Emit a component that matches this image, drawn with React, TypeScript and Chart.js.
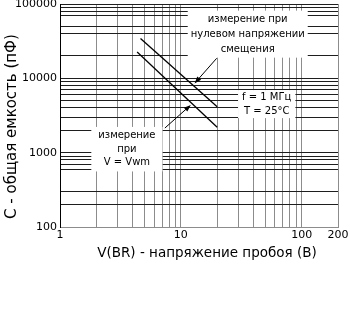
import { useEffect, useRef } from "react";
import { Chart, registerables } from "chart.js";

Chart.register(...registerables);

// ---- data ----
const xTickValues = [1, 2, 3, 4, 5, 6, 7, 8, 9, 10, 20, 30, 40, 50, 60, 70, 80, 90, 100, 200];
const xTickLabels = ["1", "10", "100", "200"];
// horizontal grid lines visible in the reference
const yTickValues = [
  100, 200, 300, 600, 700, 800, 900,
  1000, 2000, 3000, 4000, 5000, 6000, 7000, 8000, 9000,
  10000, 20000, 40000, 50000, 70000, 80000, 90000, 100000,
];
const yTickLabels = ["100", "1000", "10000", "100000"];

const zeroBiasV = [4.64, 20];
const zeroBiasC = [34400, 4150];
const vwmV = [4.35, 20];
const vwmC = [22650, 2200];

const xTitle = "V(BR) - напряжение пробоя (В)";
const yTitle = "C - общая емкость (пФ)";

const noteZeroBias = ["измерение при", "нулевом напряжении", "смещения"];
const noteConditions = ["f = 1 МГц", "T = 25°C"];
const noteVwm = ["измерение", "при", "V = Vwm"];

const FONT = "'DejaVu Sans', sans-serif";

// annotation placement (data coordinates)
const notes = [
  { lines: noteZeroBias, x: 35.8, y: 39300, lh: 15, padX: 3, padY: 1 },
  { lines: noteConditions, x: 51.4, y: 4500, lh: 14, padX: 4, padY: 0 },
  { lines: noteVwm, x: 3.58, y: 1114, lh: 13.5, padX: 7, padY: 2 },
];
const arrows = [
  { from: [19.8, 18600], to: [13, 8550] },
  { from: [7.38, 2143], to: [12.1, 4385] },
];

const overlay = {
  id: "overlay",
  afterDatasetsDraw(chart: any) {
    const { ctx, chartArea } = chart;
    const xs = chart.scales.x;
    const ys = chart.scales.y;
    ctx.save();
    ctx.font = `10px ${FONT}`;
    ctx.textAlign = "center";
    ctx.textBaseline = "middle";
    for (const n of notes) {
      const cx = xs.getPixelForValue(n.x);
      const cy = ys.getPixelForValue(n.y);
      const w = Math.max(...n.lines.map((l) => ctx.measureText(l).width)) + 2 * n.padX;
      const h = n.lines.length * n.lh + 2 * n.padY;
      ctx.fillStyle = "#ffffff";
      ctx.fillRect(cx - w / 2, cy - h / 2, w, h);
      ctx.fillStyle = "#000000";
      n.lines.forEach((l, i) => {
        ctx.fillText(l, cx, cy + (i - (n.lines.length - 1) / 2) * n.lh);
      });
    }
    ctx.strokeStyle = "#000";
    ctx.fillStyle = "#000";
    ctx.lineWidth = 1;
    for (const a of arrows) {
      const x0 = xs.getPixelForValue(a.from[0]);
      const y0 = ys.getPixelForValue(a.from[1]);
      const x1 = xs.getPixelForValue(a.to[0]);
      const y1 = ys.getPixelForValue(a.to[1]);
      const ang = Math.atan2(y1 - y0, x1 - x0);
      const L = 7, W = 2.6;
      ctx.beginPath();
      ctx.moveTo(x0, y0);
      ctx.lineTo(x1 - Math.cos(ang) * L * 0.8, y1 - Math.sin(ang) * L * 0.8);
      ctx.stroke();
      ctx.beginPath();
      ctx.moveTo(x1, y1);
      ctx.lineTo(x1 - Math.cos(ang) * L - Math.sin(ang) * W, y1 - Math.sin(ang) * L + Math.cos(ang) * W);
      ctx.lineTo(x1 - Math.cos(ang) * L + Math.sin(ang) * W, y1 - Math.sin(ang) * L - Math.cos(ang) * W);
      ctx.closePath();
      ctx.fill();
    }
    // axis titles
    ctx.fillStyle = "#000";
    ctx.font = `13.5px ${FONT}`;
    ctx.fillText(xTitle, (chartArea.left + chartArea.right) / 2 + 8, chartArea.bottom + 26);
    ctx.font = `15px ${FONT}`;
    ctx.translate(12, (chartArea.top + chartArea.bottom) / 2 + 11);
    ctx.rotate(-Math.PI / 2);
    ctx.fillText(yTitle, 0, 0);
    ctx.restore();
  },
};

export default function App() {
  const ref = useRef<HTMLCanvasElement | null>(null);
  useEffect(() => {
    if (!ref.current) return;
    const chart = new Chart(ref.current, {
      type: "scatter",
      data: {
        datasets: [
          {
            label: "zero bias",
            data: zeroBiasV.map((v, i) => ({ x: v, y: zeroBiasC[i] })),
            showLine: true,
            borderColor: "#000",
            borderWidth: 1.3,
            pointRadius: 0,
          },
          {
            label: "V = Vwm",
            data: vwmV.map((v, i) => ({ x: v, y: vwmC[i] })),
            showLine: true,
            borderColor: "#000",
            borderWidth: 1.3,
            pointRadius: 0,
          },
        ],
      },
      options: {
        responsive: false,
        animation: false,
        devicePixelRatio: 1,
        layout: { padding: { left: 0, top: 4, right: 12, bottom: 77 } },
        plugins: { legend: { display: false }, tooltip: { enabled: false } },
        scales: {
          x: {
            type: "logarithmic",
            min: 1,
            max: 200,
            afterBuildTicks: (s: any) => {
              s.ticks = xTickValues.map((v) => ({ value: v }));
            },
            afterFit: (s: any) => {
              s.height = 30;
              s.paddingLeft = 0;
              s.paddingRight = 0;
            },
            ticks: {
              autoSkip: false,
              maxRotation: 0,
              padding: 2,
              color: "#000",
              font: { family: FONT, size: 11 },
              callback: (v: any) => (xTickLabels.includes(String(v)) ? String(v) : ""),
            },
            grid: { color: "#8c8c8c", lineWidth: 1, drawTicks: false },
            border: { color: "#8c8c8c", width: 1 },
          },
          y: {
            type: "logarithmic",
            min: 100,
            max: 100000,
            afterBuildTicks: (s: any) => {
              s.ticks = yTickValues.map((v) => ({ value: v }));
            },
            afterFit: (s: any) => {
              s.width = 60;
              s.paddingTop = 0;
              s.paddingBottom = 0;
            },
            ticks: {
              autoSkip: false,
              padding: 3,
              color: "#000",
              font: { family: FONT, size: 11 },
              callback: (v: any) => (yTickLabels.includes(String(v)) ? String(v) : ""),
            },
            grid: { color: "#1e1e1e", lineWidth: 1, drawTicks: false },
            border: { color: "#000", width: 1 },
          },
        },
      },
      plugins: [overlay],
    });
    return () => chart.destroy();
  }, []);
  return (
    <div style={{ position: "absolute", left: 0, top: 0, width: 350, height: 334, background: "#fff" }}>
      <canvas ref={ref} width={350} height={334} />
    </div>
  );
}
